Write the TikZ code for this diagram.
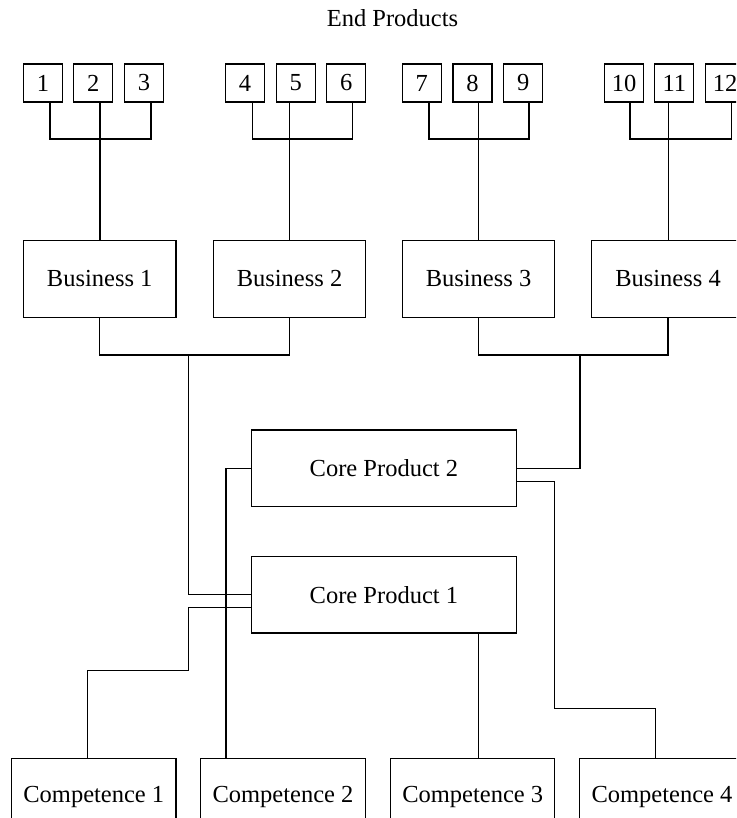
\documentclass[tikz,border=0pt]{standalone}
\usepackage{fontspec}
\setmainfont{Liberation Serif}
\begin{document}
\begin{tikzpicture}[x=1pt,y=-1pt,line width=1.1pt,
  every node/.style={font=\fontsize{24.5}{28}\selectfont, inner sep=0pt},
  sq/.style={draw, minimum width=39pt, minimum height=38pt},
  biz/.style={draw, minimum width=152.5pt, minimum height=76.6pt},
  core/.style={draw, minimum width=265.7pt, minimum height=76.6pt},
  comp/.style={draw, minimum width=164.3pt, minimum height=76pt}]
\clip (0,0) rectangle (736,818);
\node[anchor=base] (title) at (392.5,27) {End Products};
% end products
\node[sq] (p1) at (43,83) {1};
\node[sq] (p2) at (93.3,83) {2};
\node[sq] (p3) at (144,83) {3};
\node[sq] (p4) at (245,83) {4};
\node[sq] (p5) at (295.8,83) {5};
\node[sq] (p6) at (346.2,83) {6};
\node[sq] (p7) at (421.8,83) {7};
\node[sq] (p8) at (472.5,83) {8};
\node[sq] (p9) at (523.2,83) {9};
\node[sq] (p10) at (624.2,83) {10};
\node[sq] (p11) at (674.3,83) {11};
\node[sq] (p12) at (725.2,83) {12};
% businesses
\node[biz] (b1) at (99.7,279) {Business 1};
\node[biz] (b2) at (289.5,279) {Business 2};
\node[biz] (b3) at (478.5,279) {Business 3};
\node[biz] (b4) at (668,279) {Business 4};
% core products
\node[core] (c2) at (383.9,468.3) {Core Product 2};
\node[core] (c1) at (383.9,594.7) {Core Product 1};
% competences
\node[comp] (m1) at (93.8,796.5) {Competence 1};
\node[comp] (m2) at (283,796.5) {Competence 2};
\node[comp] (m3) at (472.7,796.5) {Competence 3};
\node[comp] (m4) at (662,796.5) {Competence 4};
% junction coordinates: end products -> businesses
\coordinate (g1l) at (50,139);   \coordinate (g1m) at (100,139);   \coordinate (g1r) at (151,139);
\coordinate (g2l) at (252.3,139);\coordinate (g2m) at (289.3,139); \coordinate (g2r) at (352.3,139);
\coordinate (g3l) at (429,139);  \coordinate (g3m) at (478.7,139); \coordinate (g3r) at (529,139);
\coordinate (g4l) at (630,139);  \coordinate (g4m) at (668.3,139); \coordinate (g4r) at (731.7,139);
\draw (g1l |- p1.south) -- (g1l) -- (g1r) -- (g1r |- p3.south);
\draw (g1m |- p2.south) -- (g1m |- b1.north);
\draw (g2l |- p4.south) -- (g2l) -- (g2r) -- (g2r |- p6.south);
\draw (g2m |- p5.south) -- (g2m |- b2.north);
\draw (g3l |- p7.south) -- (g3l) -- (g3r) -- (g3r |- p9.south);
\draw (g3m |- p8.south) -- (g3m |- b3.north);
\draw (g4l |- p10.south) -- (g4l) -- (g4r) -- (g4r |- p12.south);
\draw (g4m |- p11.south) -- (g4m |- b4.north);
% businesses -> core products
\coordinate (k1) at (188.3,355);
\coordinate (k2) at (580,355);
\draw (b1.south) |- (k1);
\draw (b2.south) |- (k1);
\draw (k1) |- (c1.west);
\draw (b3.south) |- (k2);
\draw (b4.south) |- (k2);
\draw (k2) |- (c2.east);
% core products -> competences
\coordinate (v2) at (226,757);
\draw (c2.west) -| (v2 |- m2.north);
\coordinate (t1) at (188.3,670.7);
\coordinate (v1) at (87.4,757);
\draw ([yshift=-13pt]c1.west) -| (t1) -| (v1 |- m1.north);
\coordinate (v3) at (478.3,757);
\draw (v3 |- c1.south) -- (v3 |- m3.north);
\coordinate (t4) at (554.7,708.3);
\coordinate (v4) at (655.8,757);
\draw ([yshift=-13pt]c2.east) -| (t4) -| (v4 |- m4.north);
\end{tikzpicture}
\end{document}
